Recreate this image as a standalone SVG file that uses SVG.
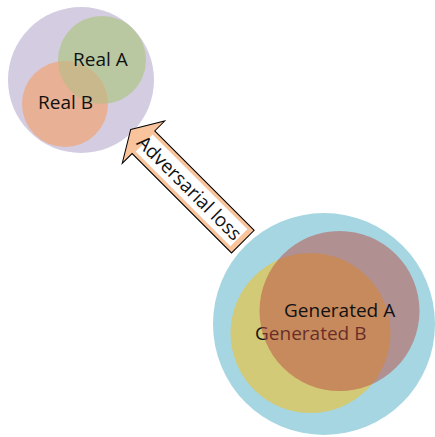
<svg xmlns="http://www.w3.org/2000/svg" width="435" height="437" viewBox="0 0 435 437">
<style>
text{font-family:"Open Sans","Noto Sans",sans-serif;font-size:19px;fill:#111;}
</style>
<defs>
<clipPath id="clipRealA"><circle cx="102" cy="60" r="44"/></clipPath>
</defs>
<rect width="435" height="437" fill="#ffffff"/>
<g id="real-domain">
<circle cx="81" cy="80" r="73" fill="#d4cce1"/>
</g>
<g id="real-a">
<circle cx="102" cy="60" r="44" fill="#b9c8a0"/>
</g>
<g id="real-b">
<circle cx="65" cy="104" r="43" fill="#e8b094"/>
<circle cx="65" cy="104" r="43" fill="#c9b88c" clip-path="url(#clipRealA)"/>
</g>
<text x="73" y="66">Real A</text>
<text x="38" y="109">Real B</text>
<g id="generated-domain">
<circle cx="324" cy="324" r="111" fill="#a6d6e1"/>
</g>
<g id="generated-b">
<circle cx="310.5" cy="333" r="80" fill="#d2ca76"/>
<text x="255" y="340">Generated B</text>
</g>
<g id="generated-a">
<circle cx="339.5" cy="311" r="80" fill="#bb4a42" fill-opacity="0.5"/>
<text x="284" y="317">Generated A</text>
</g>
<g id="connectors">
<g transform="translate(130.7,129.5) rotate(45)">
<path d="M0,0 L18,-30 L18,-16 L158.6,-16 L158.6,16 L18,16 L18,30 Z" fill="#f9c39b" stroke="#000" stroke-width="1" stroke-linejoin="miter"/>
<rect x="19" y="-12" width="134" height="24" fill="#ffffff"/>
<text x="83" y="6.5" text-anchor="middle">Adversarial loss</text>
</g>
</g>
</svg>
